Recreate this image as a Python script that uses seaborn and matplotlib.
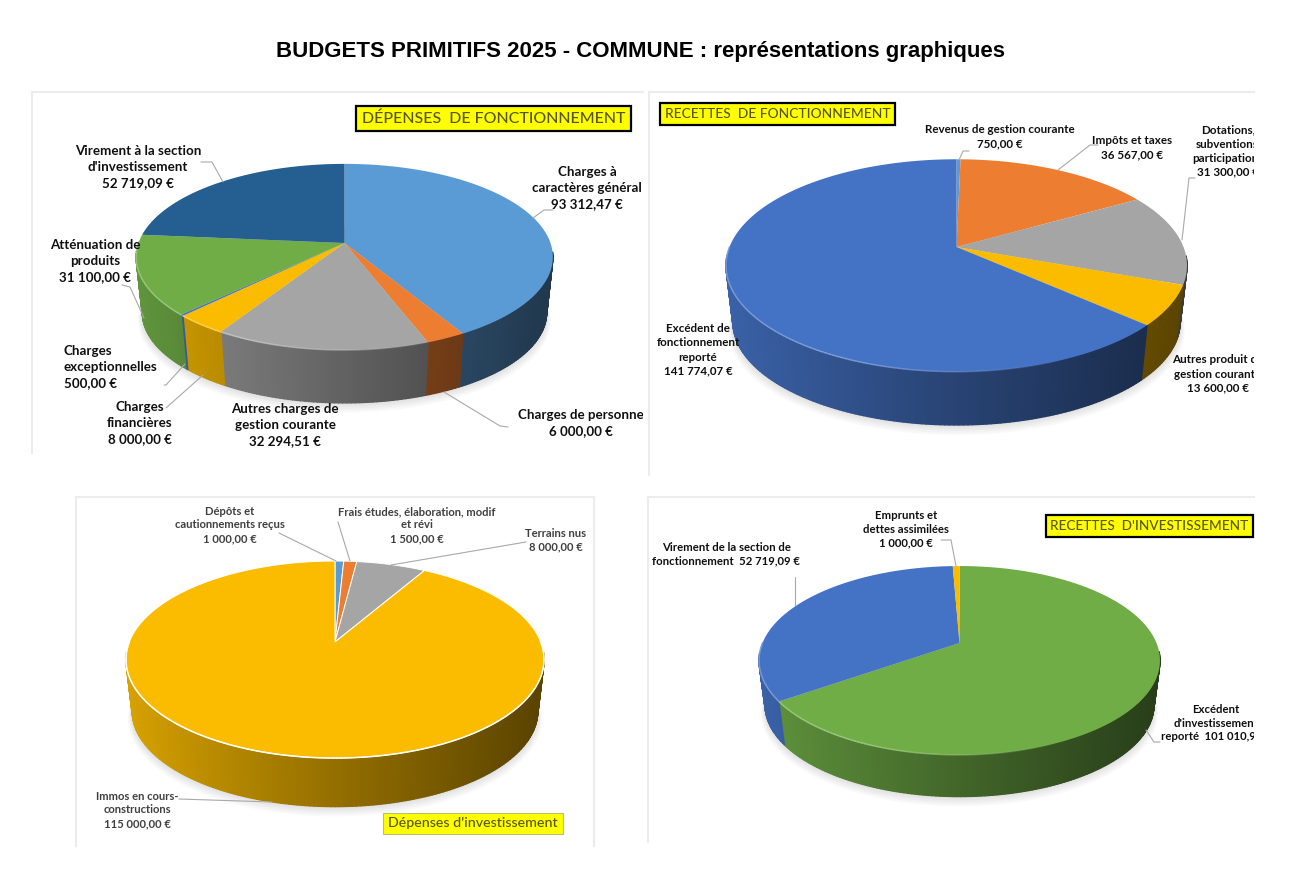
import numpy as np
import seaborn as sns
import matplotlib
matplotlib.use('Agg')
import matplotlib.pyplot as plt
from matplotlib.collections import LineCollection, PolyCollection
from matplotlib.path import Path
from matplotlib.transforms import Affine2D, Transform

# values
dep_fonc_values = [93312.47, 6000.00, 32294.51, 8000.00, 500.00, 31100.00, 52719.09]
rec_fonc_values = [750.00, 36567.00, 31300.00, 13600.00, 141774.07]
dep_inv_values = [1000.00, 1500.00, 8000.00, 115000.00]
rec_inv_values = [101010.99, 52719.09, 1000.00]

dep_fonc_colors = ['#5B9BD5', '#ED7D31', '#A5A5A5', '#FBBC00', '#4472C4', '#70AD47', '#255E91']
rec_fonc_colors = ['#5B9BD5', '#ED7D31', '#A5A5A5', '#FBBC00', '#4472C4']
dep_inv_colors = ['#5B9BD5', '#ED7D31', '#A5A5A5', '#FBBC00']
rec_inv_colors = ['#70AD47', '#4472C4', '#FBBC00']

dep_fonc_labels = [
    ("Charges à\ncaractères général\n93 312,47 €", 587, 188, 'center', [(553, 210), (544, 210), (533, 218)]),
    ("Charges de personne\n6 000,00 €", 581, 423, 'center', [(508, 427), (500, 426), (444, 392)]),
    ("Autres charges de\ngestion courante\n32 294,51 €", 285, 425, 'center', []),
    ("Charges\nfinancières\n8 000,00 €", 140, 423, 'center', [(166, 408), (203, 375)]),
    ("Charges\nexceptionnelles\n500,00 €", 64, 367, 'left', [(164, 385), (166, 385), (185, 364)]),
    ("Atténuation de\nproduits\n31 100,00 €", 95, 261, 'center', [(122, 285), (130, 287), (144, 318)]),
    ("Virement à la section\nd'investissement\n52 719,09 €", 138, 167, 'center', [(201, 162), (212, 162), (223, 182)]),
]
rec_fonc_labels = [
    ("Revenus de gestion courante\n750,00 €", 1000, 137, 'center', [(969, 151), (963, 151), (959, 160)]),
    ("Impôts et taxes\n36 567,00 €", 1132, 148, 'center', [(1098, 145), (1090, 145), (1058, 170)]),
    ("Dotations,\nsubventions,\nparticipations\n31 300,00 €", 1228, 151, 'center', [(1195, 178), (1189, 178), (1182, 240)]),
    ("Autres produit de\ngestion courante\n13 600,00 €", 1218, 374, 'center', []),
    ("Excédent de\nfonctionnement\nreporté\n141 774,07 €", 698, 350, 'center', []),
]
dep_inv_labels = [
    ("Dépôts et\ncautionnements reçus\n1 000,00 €", 230, 525, 'center', [(279, 533), (336, 561)]),
    ("Frais études, élaboration, modif\net révi\n1 500,00 €", 417, 525, 'center', [(338, 522), (350, 561)]),
    ("Terrains nus\n8 000,00 €", 556, 540, 'center', [(526, 542), (391, 565)]),
    ("Immos en cours-\nconstructions\n115 000,00 €", 137, 810, 'center', [(179, 799), (272, 802)]),
]
rec_inv_labels = [
    ("Emprunts et\ndettes assimilées\n1 000,00 €", 906, 529, 'center', [(941, 540), (951, 540), (956, 566)]),
    ("Virement de la section de\nfonctionnement  52 719,09 €", 726, 554, 'center', [(795, 577), (795, 605)]),
    ("Excédent\nd'investissement\nreporté  101 010,99 €", 1216, 723, 'center', [(1146, 730), (1154, 742), (1160, 742)]),
]

W, H = 1312, 869
FRAME = '#ececec'
LEADER = '#a9a9a9'


class Tilt(Transform):
    """Perspective of the unit circle, in pixels: the apex sits above the ellipse centre."""
    input_dims = 2
    output_dims = 2

    def __init__(self, cx, cy, sx, sy, k):
        super().__init__()
        self.cx, self.cy, self.sx, self.sy, self.k = cx, cy, sx, sy, k

    def transform_non_affine(self, values):
        values = np.asarray(values, dtype=float)
        d = 1 + self.k * values[:, 1]
        return np.column_stack([self.cx + self.sx * values[:, 0] / d,
                                self.cy - self.sy * values[:, 1] / d])

    def transform_path_non_affine(self, path):
        poly = path.to_polygons(Affine2D().scale(500))[0] / 500
        return Path(self.transform_non_affine(poly))


def blend(color, other, t):
    return tuple((1 - t) * np.array(color[:3]) + t * np.array(other))


def make_panel(fig, box, values, colors, labels, geom, font_size, line_spacing,
               edge='none', rim='light', text_color='#101010', bold=True):
    x0, y0, x1, y1 = box
    ax = fig.add_axes([x0 / W, 1 - y1 / H, (x1 - x0) / W, (y1 - y0) / H])
    palette = sns.color_palette(colors)
    tilt = Tilt(geom['cx'], geom['cy'], geom['sx'], geom['sy'], geom['k'])

    wedges, _ = ax.pie(values, colors=palette, startangle=90, counterclock=False, radius=1,
                       wedgeprops=dict(edgecolor=edge, linewidth=0.7 if edge != 'none' else 0,
                                       zorder=5))
    ax.set_aspect('auto')
    ax.set_xlim(x0, x1)
    ax.set_ylim(y1, y0)
    for wedge in wedges:
        wedge.set_transform(tilt + ax.transData)

    # soft shadow under the cake
    t = np.linspace(0, 2 * np.pi, 200)
    ring = tilt.transform_non_affine(np.column_stack([np.cos(t), np.sin(t)]))
    depth, shrink = geom['depth'], geom['shrink']
    centre = np.array([geom['cx'], geom['cy']])
    for i in range(6):
        low = centre + (ring - centre) * (shrink + 0.004 * i) + [0, depth + 1.5 * i]
        ax.fill(low[:, 0], low[:, 1], color='black', alpha=0.025, lw=0, zorder=1)

    # side of the cake, quads shaded from left to right
    left, right = ring[:, 0].min(), ring[:, 0].max()
    quads, faces = [], []
    for wedge, color in zip(wedges, palette):
        steps = max(int(wedge.theta2 - wedge.theta1), 2)
        th = np.radians(np.linspace(wedge.theta1, wedge.theta2, steps))
        top = tilt.transform_non_affine(np.column_stack([np.cos(th), np.sin(th)]))
        low = centre + (top - centre) * shrink + [0, depth]
        for j in range(steps - 1):
            if np.sin(th[j]) > -0.1 and np.sin(th[j + 1]) > -0.1:
                continue
            quads.append([top[j], top[j + 1], low[j + 1], low[j]])
            pos = (0.5 * (top[j, 0] + top[j + 1, 0]) - left) / (right - left)
            shade = 0.86 - 0.50 * pos ** 0.9
            faces.append(tuple(np.array(color[:3]) * shade))
    ax.add_collection(PolyCollection(quads, facecolors=faces, edgecolors=faces,
                                     linewidths=1.0, zorder=2), autolim=False)

    # bevel along the front edge of the top face, fading towards the right
    segments, seg_colors = [], []
    for wedge, color in zip(wedges, palette):
        th = np.radians(np.linspace(wedge.theta1, wedge.theta2, max(int(wedge.theta2 - wedge.theta1), 2)))
        th = th[np.sin(th) < 0.02]
        if len(th) < 2:
            continue
        arc = tilt.transform_non_affine(np.column_stack([np.cos(th), np.sin(th)]))
        line = (1, 1, 1) if rim == 'white' else blend(color, (1, 1, 1), 0.3)
        for j in range(len(arc) - 1):
            pos = (arc[j, 0] - left) / (right - left)
            alpha = 1.0 if rim == 'white' else np.clip(1.5 - 2.0 * pos, 0, 1)
            segments.append(arc[j:j + 2])
            seg_colors.append((*line, alpha))
    ax.add_collection(LineCollection(segments, colors=seg_colors, linewidths=1.1, zorder=6),
                      autolim=False)

    for text, tx, ty, ha, leader in labels:
        ax.text(tx, ty, text, ha=ha, va='center', multialignment=ha, fontsize=font_size,
                linespacing=line_spacing, color=text_color, clip_on=True, zorder=8,
                fontweight='bold' if bold else 'semibold')
        if leader:
            xs, ys = zip(*leader)
            ax.plot(xs, ys, color=LEADER, lw=0.8, zorder=7)

    ax.set_frame_on(True)
    ax.set_xticks([])
    ax.set_yticks([])
    return ax


def frame(ax, sides):
    for name, spine in ax.spines.items():
        spine.set_visible(name in sides)
        spine.set_color(FRAME)
        spine.set_linewidth(1.5)


def title_box(ax, text, x, y, size, edge='black', lw=1.6, color='#56561c', pad=0.34):
    ax.text(x, y, text, ha='center', va='center', fontsize=size, color=color, zorder=9,
            fontweight='medium',
            bbox=dict(boxstyle='square,pad=%s' % pad, facecolor='#FFFF00', edgecolor=edge, linewidth=lw))


sns.set_theme(style='white')
plt.rcParams['font.family'] = ['Lato', 'DejaVu Sans']

fig = plt.figure(figsize=(W / 100, H / 100), dpi=100, facecolor='white')

fig.text(640 / W, 1 - 52 / H, 'BUDGETS PRIMITIFS 2025 - COMMUNE : représentations graphiques',
         ha='center', va='center', fontsize=16.05, fontweight='bold', color='black',
         family='Liberation Sans')

ax1 = make_panel(fig, (32, 92, 643, 453), dep_fonc_values, dep_fonc_colors, dep_fonc_labels,
                 dict(cx=344.5, cy=243, sx=206, sy=91, k=0.15, depth=56, shrink=0.97), 9.6, 1.38)
frame(ax1, ['top', 'left'])
title_box(ax1, 'DÉPENSES  DE FONCTIONNEMENT', 493.5, 118.5, 11.5)

ax2 = make_panel(fig, (649, 92, 1254, 475), rec_fonc_values, rec_fonc_colors, rec_fonc_labels,
                 dict(cx=956.5, cy=247, sx=227, sy=103, k=0.174, depth=57, shrink=0.97), 8.4, 1.34)
frame(ax2, ['top', 'left'])
title_box(ax2, 'RECETTES  DE FONCTIONNEMENT', 777.5, 114, 9.9)

ax3 = make_panel(fig, (76, 497, 594, 846), dep_inv_values, dep_inv_colors, dep_inv_labels,
                 dict(cx=335, cy=642, sx=205.7, sy=95.4, k=0.178, depth=52, shrink=0.97), 8.1, 1.28,
                 edge='white', rim='white', text_color='#404040')
frame(ax3, ['top', 'left', 'right'])
title_box(ax3, "Dépenses d'investissement", 473, 823.5, 10.3, edge='#b8c070', lw=0.8)

ax4 = make_panel(fig, (648, 497, 1254, 842), rec_inv_values, rec_inv_colors, rec_inv_labels,
                 dict(cx=959.5, cy=643, sx=197, sy=91.2, k=0.185, depth=45, shrink=0.97), 8.2, 1.3)
frame(ax4, ['top', 'left'])
title_box(ax4, "RECETTES  D'INVESTISSEMENT", 1149.5, 526, 9.7)

fig.savefig('out.png', dpi=100, facecolor='white')
